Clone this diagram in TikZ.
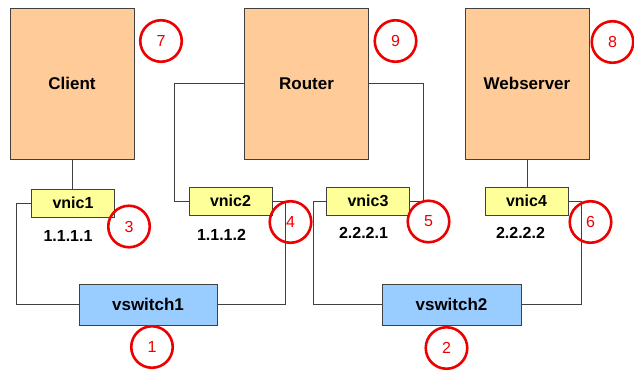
\documentclass[tikz,border=0pt]{standalone}
\usepackage{fontspec}
\setmainfont{Liberation Sans}
\definecolor{hostfill}{HTML}{FFCC99}
\definecolor{nicfill}{HTML}{FFFF99}
\definecolor{switchfill}{HTML}{99CCFF}
\definecolor{markred}{HTML}{EE0000}
\definecolor{wire}{HTML}{404040}
\begin{document}
\begin{tikzpicture}
    [x=1pt, y=-1pt,
    host/.style={draw=wire, fill=hostfill, minimum width=124pt, minimum height=151pt,
      inner sep=0pt, font=\fontsize{17}{20}\selectfont\bfseries},
    nic/.style={draw=wire, fill=nicfill, minimum width=83pt, minimum height=27.5pt,
      inner sep=0pt, font=\fontsize{16}{19}\selectfont\bfseries},
    vswitch/.style={draw=wire, fill=switchfill, minimum width=138.5pt, minimum height=41pt,
      inner sep=0pt, font=\fontsize{17}{20}\selectfont\bfseries},
    addr/.style={font=\fontsize{16}{19}\selectfont\bfseries},
    num/.style={circle, draw=markred, line width=2.6pt, minimum size=41.5pt, inner sep=0pt,
      text=markred, font=\fontsize{16}{19}\selectfont},
    link/.style={draw=wire, line width=0.8pt}]
    \useasboundingbox (0,0) rectangle (634,370);
    % hosts
    \node[host] (client) at (72,83.5) {Client};
    \node[host] (router) at (306.5,83.5) {Router};
    \node[host] (web) at (527,83.5) {Webserver};
    % nics
    \node[nic] (vnic1) at (73,203) {vnic1};
    \node[nic] (vnic2) at (230.5,201) {vnic2};
    \node[nic] (vnic3) at (368,201) {vnic3};
    \node[nic] (vnic4) at (526.5,201) {vnic4};
    % switches
    \node[vswitch] (vswitch1) at (148,304.5) {vswitch1};
    \node[vswitch] (vswitch2) at (451.5,304.5) {vswitch2};
    % addresses
    \node[addr] (ip1) at (68,236) {1.1.1.1};
    \node[addr] (ip2) at (221.5,235) {1.1.1.2};
    \node[addr] (ip3) at (363.5,233) {2.2.2.1};
    \node[addr] (ip4) at (520.5,232.5) {2.2.2.2};
    % wires
    \draw[link] (client.south) -- (client.south |- vnic1.north);
    \draw[link] (web.south) -- (web.south |- vnic4.north);
    \draw[link] (router.west) -- ++(-70,0) |- (vnic2.west);
    \draw[link] (router.east) -- ++(55,0) |- (vnic3.east);
    \draw[link] (vnic1.west) -- ++(-14.5,0) |- (vswitch1.west);
    \draw[link] (vnic2.east) -- ++(13.5,0) |- (vswitch1.east);
    \draw[link] (vnic3.west) -- ++(-13,0) |- (vswitch2.west);
    \draw[link] (vnic4.east) -- ++(13.5,0) |- (vswitch2.east);
    % numbers
    \node[num] (n1) at (152,347) {1};
    \node[num] (n2) at (446.5,348) {2};
    \node[num] (n3) at (129,226.5) {3};
    \node[num] (n4) at (290.5,222) {4};
    \node[num] (n5) at (428.5,221.5) {5};
    \node[num] (n6) at (590.5,222) {6};
    \node[num] (n7) at (161,41) {7};
    \node[num] (n8) at (612.5,42) {8};
    \node[num] (n9) at (395.5,41) {9};
\end{tikzpicture}
\end{document}
